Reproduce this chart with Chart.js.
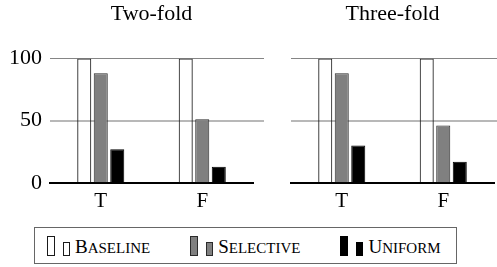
<!DOCTYPE html>
<html>
<head>
<meta charset="utf-8">
<script src="https://cdn.jsdelivr.net/npm/chart.js@4.4.1/dist/chart.umd.min.js"></script>
<style>
   body { margin: 0; background: #fff; }
   #page { position: relative; width: 497px; height: 267px; overflow: hidden; background: #fff; }
   .graph { position: absolute; top: 0; height: 220px; }
   #twoFold { left: 0; width: 270px; }
   #threeFold { left: 270px; width: 227px; }
   #legend {
      position: absolute; left: 34px; top: 227px; width: 423px; height: 37px;
      box-sizing: border-box; border: 1px solid #666;
      display: flex; align-items: center; padding-left: 12px;
      font-family: 'Liberation Serif', serif; color: #000;
   }
   .item { display: flex; align-items: baseline; margin-right: 40px; }
   .swatch { display: inline-block; box-sizing: border-box; border: 1px solid #000; position: relative; top: 3px; }
   .tall { width: 8px; height: 20px; margin-right: 8px; }
   .short { width: 7px; height: 14px; margin-right: 5px; }
   .label { font-size: 19px; line-height: 20px; }
   .label .rest { font-size: 15px; text-transform: uppercase; }
</style>
</head>
<body>
<div id="page">
   <div class="graph" id="twoFold"><canvas></canvas></div>
   <div class="graph" id="threeFold"><canvas></canvas></div>
   <div id="legend"></div>
</div>
<script>
const categories = ['T', 'F'];
const seriesNames = ['Baseline', 'Selective', 'Uniform'];
const yTicks = [0, 50, 100];

const baselineTwoFold = [100, 100];
const selectiveTwoFold = [88, 51];
const uniformTwoFold = [27, 13];

const baselineThreeFold = [100, 100];
const selectiveThreeFold = [88, 46];
const uniformThreeFold = [30, 17];

let seriesStyles = [
   {backgroundColor: 'rgba(255,255,255,0)', borderColor: '#1a1a1a'},
   {backgroundColor: '#808080', borderColor: '#2b2b2b'},
   {backgroundColor: '#000000', borderColor: '#000000'}
];

Chart.defaults.font.family = "'Liberation Serif', serif";
Chart.defaults.color = '#000';
Chart.defaults.animation = false;
Chart.defaults.responsive = true;
Chart.defaults.maintainAspectRatio = false;
Chart.defaults.plugins.legend.display = false;
Chart.defaults.plugins.tooltip.enabled = false;

function gridColor(ctx){
   if(ctx.tick.value == 100) return '#858585';
   if(ctx.tick.value == 50) return '#b8b8b8';
   return 'rgba(0,0,0,0)';
}

function gridWidth(ctx){
   return ctx.tick.value == 50 ? 2 : 1;
}

// pgfplots draws the horizontal grid a little past the end of the x axis
const gridOverhang = {
   id: 'gridOverhang',
   afterDraw(chart){
      let ctx = chart.ctx;
      let y = chart.scales.y;
      let right = chart.chartArea.right;
      ctx.save();
      y.ticks.forEach((tick)=>{
         if(tick.value == 0) return;
         let c = {tick: tick};
         let w = gridWidth(c);
         let py = y.getPixelForValue(tick.value);
         py = w == 1 ? Math.round(py) + 0.5 : Math.round(py);
         ctx.strokeStyle = gridColor(c);
         ctx.lineWidth = w;
         ctx.beginPath();
         ctx.moveTo(right, py);
         ctx.lineTo(right + 11, py);
         ctx.stroke();
      });
      ctx.restore();
   }
};

function constructGraph(container, title, series, showLabels, padding, axisWidth){
   let datasets = series.map((values, i) => ({
      label: seriesNames[i],
      data: values,
      backgroundColor: seriesStyles[i].backgroundColor,
      borderColor: seriesStyles[i].borderColor,
      borderWidth: 1,
      categoryPercentage: 0.488,
      barPercentage: 0.85
   }));

   let canvas = document.querySelector(container + ' canvas');
   new Chart(canvas.getContext('2d'), {
      type: 'bar',
      data: {labels: categories, datasets: datasets},
      options: {
         layout: {padding: padding},
         plugins: {
            title: {
               display: true,
               text: title,
               fullSize: false,
               font: {size: 22, weight: 'normal'},
               padding: {top: 1, bottom: 31}
            }
         },
         scales: {
            x: {
               grid: {display: false, drawTicks: false},
               border: {color: '#000', width: 2},
               ticks: {font: {size: 21}, padding: 6}
            },
            y: {
               min: 0,
               max: 100,
               afterBuildTicks: (scale) => { scale.ticks = yTicks.map(v => ({value: v})); },
               afterFit: (scale) => { scale.width = axisWidth; },
               border: {display: false},
               grid: {color: gridColor, lineWidth: gridWidth, drawTicks: false},
               ticks: {display: showLabels, font: {size: 22}, padding: 8}
            }
         }
      },
      plugins: [gridOverhang]
   });
}

function constructLegend(){
   let legend = document.getElementById('legend');
   seriesNames.forEach((name, i)=>{
      let item = document.createElement('div');
      item.className = 'item';
      let style = `background:${seriesStyles[i].backgroundColor};border-color:${seriesStyles[i].borderColor}`;
      item.innerHTML = `
         <span class="swatch tall" style="${style}"></span>
         <span class="swatch short" style="${style}"></span>
         <span class="label">${name[0]}<span class="rest">${name.slice(1)}</span></span>`;
      legend.append(item);
   });
}

constructGraph('#twoFold', 'Two-fold', [baselineTwoFold, selectiveTwoFold, uniformTwoFold], true, {left: 0, right: 17, bottom: 0}, 50);
constructGraph('#threeFold', 'Three-fold', [baselineThreeFold, selectiveThreeFold, uniformThreeFold], false, {left: 0, right: 3, bottom: 0}, 21);
constructLegend();
</script>
</body>
</html>
